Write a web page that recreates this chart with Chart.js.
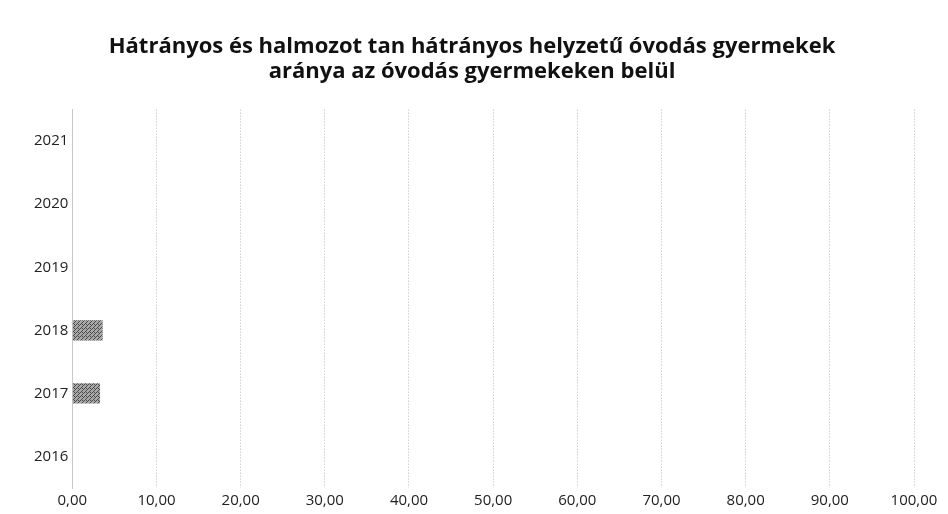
<!DOCTYPE html>
<html>
<head>
<meta charset="utf-8">
<script src="https://cdn.jsdelivr.net/npm/chart.js@4"></script>
<style>
  html, body { margin: 0; padding: 0; background: #fff; }
  #wrap { width: 948px; height: 514px; position: relative; }
</style>
</head>
<body>
<div id="wrap"><canvas id="chart" width="948" height="514"></canvas></div>
<script>
// Adatok
const evek = ['2021', '2020', '2019', '2018', '2017', '2016'];
const arany = [0, 0, 0, 3.6, 3.3, 0];
const cim = ['Hátrányos és halmozot tan hátrányos helyzetű óvodás gyermekek', 'aránya az óvodás gyermekeken belül'];

// Szürke, pontozott (nyomtatott) kitöltés
function mintazat() {
    const c = document.createElement('canvas');
    c.width = 4; c.height = 4;
    const g = c.getContext('2d');
    g.fillStyle = '#a8a8a8';
    g.fillRect(0, 0, 4, 4);
    g.fillStyle = '#4a4a4a';
    g.fillRect(0, 0, 1, 1); g.fillRect(2, 2, 1, 1);
    g.fillRect(2, 0, 1, 1); g.fillRect(1, 3, 1, 1);
    g.fillRect(3, 1, 1, 1);
    return g.createPattern(c, 'repeat');
}

const ctx = document.getElementById('chart');
new Chart(ctx, {
    type: 'bar',
    data: {
        labels: evek,
        datasets: [{
            data: arany,
            backgroundColor: mintazat(),
            borderWidth: 0,
            barPercentage: 0.32,
            categoryPercentage: 1
        }]
    },
    options: {
        indexAxis: 'y',
        responsive: false,
        animation: false,
        layout: {
            padding: { left: 30, right: 34, top: 20, bottom: 0 }
        },
        plugins: {
            legend: { display: false },
            tooltip: { enabled: false },
            title: {
                display: true,
                text: cim,
                color: '#111',
                font: { family: 'Open Sans', size: 22, weight: 'bold', lineHeight: 1.15 },
                padding: { top: 14, bottom: 25 }
            }
        },
        scales: {
            x: {
                min: 0,
                max: 100,
                ticks: {
                    stepSize: 10,
                    color: '#222',
                    padding: 4,
                    font: { family: 'Open Sans', size: 15 },
                    callback: v => v.toFixed(2).replace('.', ',')
                },
                grid: {
                    color: '#b8b8b8',
                    lineWidth: 1,
                    drawTicks: false
                },
                border: { display: false, dash: [1, 2] }
            },
            y: {
                ticks: {
                    color: '#222',
                    padding: 4,
                    font: { family: 'Open Sans', size: 15 }
                },
                grid: { display: false, drawTicks: false },
                border: { display: true, color: '#c8c8c8', dash: [1, 2] }
            }
        }
    }
});
</script>
</body>
</html>
